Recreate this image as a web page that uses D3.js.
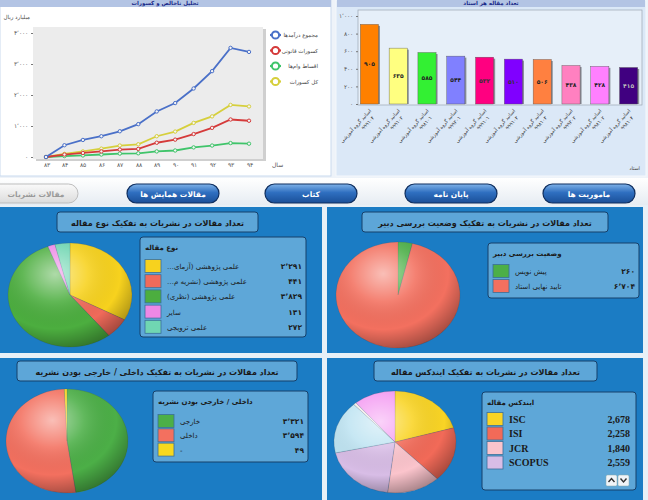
<!DOCTYPE html>
<html><head><meta charset="utf-8">
<script src="https://cdn.jsdelivr.net/npm/d3@7"></script>
<style>
html,body{margin:0;padding:0;background:#fff;}
svg{display:block;font-family:"DejaVu Sans",sans-serif;}
</style></head>
<body><svg id="c" width="648" height="500"></svg>
<script>
// ---------- DATA ----------
const years = ['۸۳','۸۴','۸۵','۸۶','۸۷','۸۸','۸۹','۹۰','۹۱','۹۲','۹۳','۹۴'];
const revenueTotal   = [0,380,550,670,830,1060,1470,1740,2210,2770,3520,3390];
const legalDeduct    = [0,80,130,180,240,260,460,560,740,940,1210,1170];
const loanInstall    = [0,30,50,80,110,120,180,210,310,370,450,430];
const totalDeduct    = [0,100,180,270,370,410,670,820,1100,1310,1680,1630];
const lineSeriesNames = ['مجموع درآمدها','کسورات قانونی','اقساط وام‌ها','کل کسورات'];
const lineYTicks = [0,1000,2000,3000,4000];

const barCodes = ['۹۹۹۱۰۴','۹۹۹۱۰۲','۹۹۸۱۰۱','۹۹۹۲۰۱','۹۹۹۱۰۱','۹۹۹۱۰۳','۹۹۸۱۰۳','۹۹۹۲۰۲','۹۹۸۱۰۲','۹۹۸۱۰۴'];
const barValues = [905,635,585,544,532,510,506,438,428,415];
const barYTicks = [0,200,400,600,800,1000];

const typeLabels = ['علمی پژوهشی (آزمای…','علمی پژوهشی (نشریه م…','علمی پژوهشی (نظری)','سایر','علمی ترویجی'];
const typeValues = [2291,441,3829,131,272];

const reviewLabels = ['پیش نویس','تایید نهایی استاد'];
const reviewValues = [260,6704];

const originLabels = ['خارجی','داخلی','-'];
const originValues = [3321,3594,49];

const indexLabels = ['ISC','ISI','JCR','SCOPUS','PubMed','Other','ISC-ISI'];
const indexValues = [2678,2258,1840,2559,2170,100,1440];
const indexLegendCount = 4;

const buttonLabels = ['ماموریت ها','پایان نامه','کتاب','مقالات همایش ها'];

// ---------- HELPERS ----------
const faDigits = '۰۱۲۳۴۵۶۷۸۹';
function toFa(n, sep){
  let s = (sep===false)? String(n) : d3.format(',')(n);
  return s.replace(/\d/g, d=>faDigits[+d]).replace(/,/g,'٬');
}
const svg = d3.select('#c');
const defs = svg.append('defs');

// gradients
const gloss = defs.append('radialGradient').attr('id','gloss').attr('cx','38%').attr('cy','30%').attr('r','75%');
gloss.append('stop').attr('offset','0%').attr('stop-color','#fff').attr('stop-opacity',0.55);
gloss.append('stop').attr('offset','35%').attr('stop-color','#fff').attr('stop-opacity',0.12);
gloss.append('stop').attr('offset','70%').attr('stop-color','#000').attr('stop-opacity',0.0);
gloss.append('stop').attr('offset','100%').attr('stop-color','#000').attr('stop-opacity',0.35);

const btnG = defs.append('linearGradient').attr('id','btn').attr('x1',0).attr('y1',0).attr('x2',0).attr('y2',1);
btnG.append('stop').attr('offset','0%').attr('stop-color','#7fb2e8');
btnG.append('stop').attr('offset','45%').attr('stop-color','#2f6fc0');
btnG.append('stop').attr('offset','100%').attr('stop-color','#1a4f98');
const btnGray = defs.append('linearGradient').attr('id','btngray').attr('x1',0).attr('y1',0).attr('x2',0).attr('y2',1);
btnGray.append('stop').attr('offset','0%').attr('stop-color','#fafafa');
btnGray.append('stop').attr('offset','100%').attr('stop-color','#dcdcdc');
const rowG = defs.append('linearGradient').attr('id','rowbg').attr('x1',0).attr('y1',0).attr('x2',0).attr('y2',1);
rowG.append('stop').attr('offset','0%').attr('stop-color','#ffffff');
rowG.append('stop').attr('offset','100%').attr('stop-color','#e6ecf2');

// ---------- BACKGROUND ----------
svg.append('rect').attr('x',0).attr('y',0).attr('width',648).attr('height',205).attr('fill','#eef3f9');

// ---------- TOP-LEFT LINE CHART ----------
svg.append('rect').attr('x',0).attr('y',0).attr('width',331).attr('height',176).attr('fill','#fff').attr('stroke','#c9daee');
svg.append('rect').attr('x',0).attr('y',0).attr('width',331).attr('height',7).attr('fill','#b3c4e4');
svg.append('text').attr('x',165).attr('y',5).attr('text-anchor','middle').attr('direction','rtl')
  .attr('font-size',5.5).attr('font-weight','bold').attr('fill','#1a2a8a').text('تحلیل ناخالص و کسورات');

const lx = d3.scalePoint().domain(years).range([46,249]);
const ly = d3.scaleLinear().domain([0,4000]).range([157,33]);
svg.append('rect').attr('x',36).attr('y',29).attr('width',230).attr('height',132).attr('fill','#cfcfcf');
svg.append('rect').attr('x',33).attr('y',27).attr('width',230).attr('height',132).attr('fill','#ececec');
const lyAxis = svg.append('g').attr('transform','translate(33,0)')
  .call(d3.axisLeft(ly).tickValues(lineYTicks).tickSize(2).tickFormat(d=>toFa(d)));
lyAxis.select('.domain').remove();
lyAxis.selectAll('text').attr('font-size',5.5).attr('fill','#555');
lyAxis.selectAll('line').attr('stroke','#777');
const lxAxis = svg.append('g').attr('transform','translate(0,159)')
  .call(d3.axisBottom(lx).tickSize(0).tickPadding(4).tickFormat(d=>d));
lxAxis.select('.domain').remove();
lxAxis.selectAll('text').attr('font-size',6).attr('fill','#555');
svg.append('text').attr('x',30).attr('y',19).attr('text-anchor','end').attr('direction','ltr')
  .attr('font-size',5.5).attr('fill','#444').text('میلیارد ریال');
svg.append('text').attr('x',272).attr('y',167).attr('font-size',6).attr('fill','#555').text('سال');

const lineData = [
  {name:lineSeriesNames[0], vals:revenueTotal, color:'#4a70c8'},
  {name:lineSeriesNames[1], vals:legalDeduct, color:'#d53a3a'},
  {name:lineSeriesNames[2], vals:loanInstall, color:'#3fc46a'},
  {name:lineSeriesNames[3], vals:totalDeduct, color:'#d6cf3c'}
];
const lineGen = d3.line().x((d,i)=>lx(years[i])).y(d=>ly(d));
[...lineData].reverse().forEach(s=>{
  svg.append('path').datum(s.vals).attr('d',lineGen).attr('fill','none').attr('stroke',s.color).attr('stroke-width',1.8);
  svg.append('g').selectAll('circle').data(s.vals).join('circle')
    .attr('cx',(d,i)=>lx(years[i])).attr('cy',d=>ly(d)).attr('r',1.7)
    .attr('fill','#f4f4f4').attr('stroke',s.color).attr('stroke-width',1);
});
const lleg = svg.append('g');
lineData.forEach((s,i)=>{
  const y = 35 + i*15.5;
  lleg.append('line').attr('x1',270).attr('x2',281).attr('y1',y).attr('y2',y).attr('stroke',s.color).attr('stroke-width',2.2);
  lleg.append('circle').attr('cx',275.5).attr('cy',y).attr('r',3.6).attr('fill','#fff').attr('stroke',s.color).attr('stroke-width',2);
  lleg.append('text').attr('x',318).attr('y',y+2).attr('direction','rtl').attr('text-anchor','start')
    .attr('font-size',5.5).attr('fill','#444').text(s.name);
});

// ---------- TOP-RIGHT BAR CHART ----------
svg.append('rect').attr('x',336).attr('y',0).attr('width',310).attr('height',176).attr('fill','#dbe8f7').attr('stroke','#f4f8fc');
svg.append('rect').attr('x',337).attr('y',0).attr('width',308).attr('height',7).attr('fill','#b3c4e4');
svg.append('text').attr('x',491).attr('y',5).attr('text-anchor','middle').attr('direction','rtl')
  .attr('font-size',5.5).attr('font-weight','bold').attr('fill','#1a2a8a').text('تعداد مقاله هر استاد');
svg.append('rect').attr('x',358).attr('y',10).attr('width',284).attr('height',95).attr('fill','#e6eff9').attr('stroke','#9aa6b2').attr('stroke-width',0.7);

const bx = d3.scaleBand().domain(barCodes).range([356,642]).paddingInner(0.37).paddingOuter(0.15);
const by = d3.scaleLinear().domain([0,1000]).range([104,16]);
const barColors = ['#ff8000','#ffff80','#33f033','#8080ff','#ff0080','#8000ff','#ff8040','#ff80c0','#ff80ff','#400080'];
const byAxis = svg.append('g').attr('transform','translate(358,0)')
  .call(d3.axisLeft(by).tickValues(barYTicks).tickSize(2).tickFormat(d=>toFa(d)));
byAxis.select('.domain').remove();
byAxis.selectAll('text').attr('font-size',5.5).attr('fill','#555');
byAxis.selectAll('line').attr('stroke','#777');
const bars = svg.append('g');
bars.selectAll('rect.sh').data(barValues).join('rect')
  .attr('x',(d,i)=>bx(barCodes[i])+1.5).attr('y',d=>by(d)+1.5).attr('width',bx.bandwidth())
  .attr('height',d=>by(0)-by(d)-1.5).attr('fill','#8a9098');
bars.selectAll('rect.b').data(barValues).join('rect')
  .attr('x',(d,i)=>bx(barCodes[i])).attr('y',d=>by(d)).attr('width',bx.bandwidth())
  .attr('height',d=>by(0)-by(d)).attr('fill',(d,i)=>barColors[i]).attr('stroke','#555').attr('stroke-width',0.4);
bars.selectAll('text').data(barValues).join('text')
  .attr('x',(d,i)=>bx(barCodes[i])+bx.bandwidth()/2).attr('y',d=>(by(d)+by(0))/2+2)
  .attr('text-anchor','middle').attr('font-size',6).attr('font-weight','bold')
  .attr('fill',(d,i)=> i===9 ? '#bbb' : (i===4||i===5 ? '#333' : '#222')).text(d=>toFa(d,false));
const bxl = svg.append('g');
barCodes.forEach((c,i)=>{
  const cx = bx(c)+bx.bandwidth()/2+2;
  const t = bxl.append('text').attr('transform',`translate(${cx},111) rotate(-48)`)
    .attr('font-size',5).attr('fill','#333').attr('text-anchor','end');
  t.append('tspan').attr('x',0).attr('dy',0).text('اساتید گروه آموزشی');
  t.append('tspan').attr('x',-3).attr('dy',7).text(c);
});
svg.append('text').attr('x',640).attr('y',170).attr('text-anchor','end').attr('font-size',5).attr('fill','#444').text('استاد');

// ---------- BUTTON ROW ----------
svg.append('rect').attr('x',0).attr('y',178).attr('width',648).attr('height',27).attr('fill','url(#rowbg)');
const btnX = [543,405,265,127];
buttonLabels.forEach((b,i)=>{
  svg.append('rect').attr('x',btnX[i]).attr('y',184).attr('width',92).attr('height',19).attr('rx',9.5)
    .attr('fill','url(#btn)').attr('stroke','#0f2f60').attr('stroke-width',1.2);
  svg.append('text').attr('x',btnX[i]+46).attr('y',196.5).attr('text-anchor','middle').attr('direction','rtl')
    .attr('font-size',7.5).attr('font-weight','bold').attr('fill','#fff').text(b);
});
svg.append('rect').attr('x',-12).attr('y',184).attr('width',90).attr('height',19).attr('rx',9.5)
  .attr('fill','url(#btngray)').attr('stroke','#bdbdbd').attr('stroke-width',1);
svg.append('text').attr('x',36).attr('y',196.5).attr('text-anchor','middle').attr('direction','rtl')
  .attr('font-size',7.5).attr('font-weight','bold').attr('fill','#9a9a9a').text('مقالات نشریات');

// ---------- BOTTOM BLUE AREA ----------
svg.append('rect').attr('x',0).attr('y',205).attr('width',648).attr('height',295).attr('fill','#e8f0f7');
const panels = [[0,207,322,146],[327,207,316,146],[0,358,322,142],[327,358,316,142]];
panels.forEach(p=>svg.append('rect').attr('x',p[0]).attr('y',p[1]).attr('width',p[2]).attr('height',p[3]).attr('fill','#1b7cc4'));

function titleBox(x,y,w,text){
  svg.append('rect').attr('x',x).attr('y',y).attr('width',w).attr('height',20).attr('rx',3)
    .attr('fill','#5da6d8').attr('stroke','#17406a').attr('stroke-width',1);
  svg.append('text').attr('x',x+w/2).attr('y',y+13.5).attr('text-anchor','middle').attr('direction','rtl')
    .attr('font-size',8).attr('font-weight','bold').attr('fill','#1a1a1a').text(text);
}
function pie(cx,cy,rx,ry,values,colors){
  const g = svg.append('g').attr('transform',`translate(${cx},${cy}) scale(1,${ry/rx})`);
  const arcs = d3.pie().sort(null).value(d=>d)(values);
  const arc = d3.arc().innerRadius(0).outerRadius(rx);
  g.selectAll('path').data(arcs).join('path').attr('d',arc).attr('fill',(d,i)=>colors[i])
    .attr('stroke','rgba(60,60,60,0.35)').attr('stroke-width',0.5);
  g.append('circle').attr('r',rx).attr('fill','url(#gloss)');
}
function legendBox(x,y,w,h,title,labels,values,colors,opts){
  opts = opts||{};
  svg.append('rect').attr('x',x).attr('y',y).attr('width',w).attr('height',h).attr('rx',3)
    .attr('fill','#5ea7d8').attr('stroke','#17406a').attr('stroke-width',1);
  svg.append('text').attr('x',x+5).attr('y',y+13).attr('direction','rtl').attr('text-anchor','end')
    .attr('font-size',7).attr('font-weight','bold').attr('fill','#1a1a1a').text(title);
  labels.forEach((l,i)=>{
    const ry = opts.y0 + i*opts.step;
    svg.append('rect').attr('x',x+5).attr('y',ry-6.5).attr('width',16).attr('height',13)
      .attr('fill',colors[i]).attr('stroke','#3a6f99').attr('stroke-width',0.8);
    if(opts.latin){
      svg.append('text').attr('x',x+27).attr('y',ry+3.5).attr('font-family','"Liberation Serif",serif')
        .attr('font-size',10).attr('font-weight','bold').attr('fill','#1a1a1a').text(l);
      svg.append('text').attr('x',x+w-6).attr('y',ry+3.5).attr('text-anchor','end').attr('font-family','"Liberation Serif",serif')
        .attr('font-size',10).attr('font-weight','bold').attr('fill','#1a1a1a').text(d3.format(',')(values[i]));
    } else {
      svg.append('text').attr('x',x+27).attr('y',ry+3).attr('direction','rtl').attr('text-anchor','end')
        .attr('font-size',7).attr('fill','#1a1a1a').text(l);
      svg.append('text').attr('x',x+w-4).attr('y',ry+3).attr('text-anchor','end')
        .attr('font-size',7.5).attr('font-weight','bold').attr('fill','#1a1a1a').text(toFa(values[i]));
    }
  });
}

// Panel 1: type
titleBox(57,212,201,'تعداد مقالات در نشریات به تفکیک نوع مقاله');
const typeColors = ['#f7d21e','#f06a5a','#4cae3f','#ee88e6','#70d6b2'];
pie(70,295,62,52,typeValues,typeColors);
legendBox(140,237,166,100,'نوع مقاله',typeLabels,typeValues,typeColors,{y0:266,step:15.2});

// Panel 2: review
titleBox(362,212,246,'تعداد مقالات در نشریات به تفکیک وضعیت بررسی دبیر');
const reviewColors = ['#4caf47','#f3705f'];
pie(398,295,62,53,reviewValues,reviewColors);
legendBox(488,243,151,55,'وضعیت بررسی دبیر',reviewLabels,reviewValues,reviewColors,{y0:271,step:15});

// Panel 3: origin
titleBox(17,361,280,'تعداد مقالات در نشریات به تفکیک داخلی / خارجی بودن نشریه');
const originColors = ['#4caf47','#f3705f','#f7d81e'];
pie(67,441,61,52,originValues,originColors);
legendBox(153,391,155,71,'داخلی / خارجی بودن نشریه',originLabels,originValues,originColors,{y0:421,step:14.3});

// Panel 4: index
titleBox(374,361,223,'تعداد مقالات در نشریات به تفکیک ایندکس مقاله');
const indexColors = ['#f9d425','#f26a58','#fbc4cc','#d8bde6','#bfe4f2','#f4ece8','#f49cf2'];
pie(395,442,61,51,indexValues,indexColors);
legendBox(482,392,154,98,'ایندکس مقاله',indexLabels.slice(0,indexLegendCount),indexValues.slice(0,indexLegendCount),indexColors,{y0:419,step:14.5,latin:true});
[[606,'M608.5,482 L611.5,478.5 L614.5,482'],[618,'M620.5,478.5 L623.5,482 L626.5,478.5']].forEach(a=>{
  svg.append('rect').attr('x',a[0]).attr('y',475).attr('width',11).attr('height',11).attr('rx',1.5).attr('fill','#f0f4f8').attr('stroke','#8aa').attr('stroke-width',0.5);
  svg.append('path').attr('d',a[1]).attr('fill','none').attr('stroke','#333').attr('stroke-width',1.4);
});
</script></body></html>
